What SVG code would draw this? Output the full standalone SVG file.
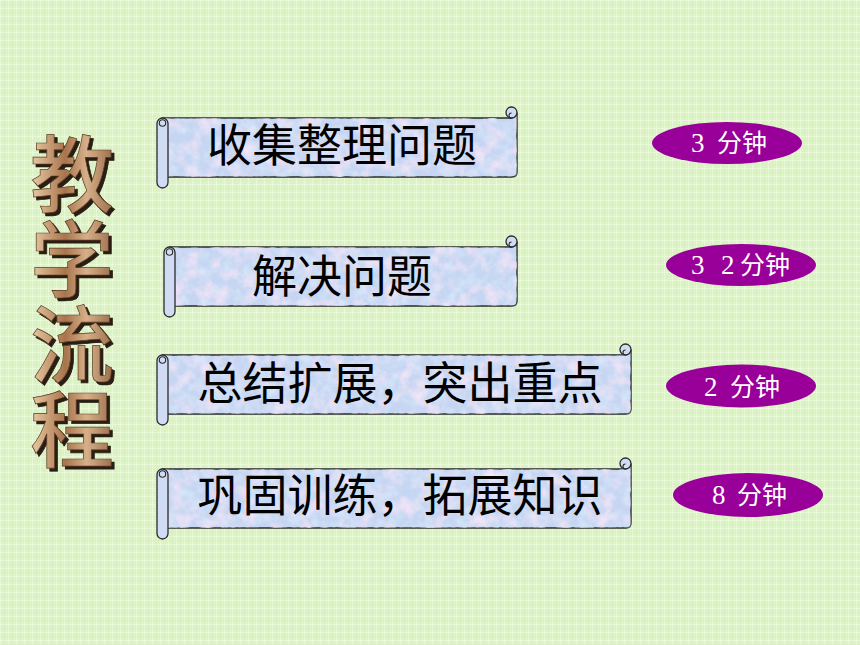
<svg xmlns="http://www.w3.org/2000/svg" width="860" height="645" viewBox="0 0 860 645">
<defs>
<style>
.scroll{fill:#c6d6f2;stroke:#2a2a2a;stroke-width:1.4}
.tex{filter:url(#marble)}
.curl{fill:#d0dcf4;stroke:#2a2a2a;stroke-width:1.3}
.lbl{font-family:"Noto Sans CJK SC","Noto Sans CJK JP",sans-serif;font-size:45px;fill:#000;text-anchor:middle}
.pill{fill:#990099}
.tm{font-family:"Liberation Serif","Noto Sans CJK SC",serif;font-size:27px;fill:#fff}
.tm .c{font-family:"Noto Sans CJK SC",sans-serif;font-size:25px}
.ttl{font-family:"Noto Sans CJK SC",sans-serif;font-size:84px;font-weight:500;letter-spacing:1px;writing-mode:vertical-rl;fill:url(#bronze);stroke:#5a3a20;stroke-width:0.7;filter:url(#shadow)}
</style>
<pattern id="grid" width="8" height="8" patternUnits="userSpaceOnUse">
<rect width="8" height="8" fill="#ddf3c7"/>
<path d="M0 0.5H8M0.5 0V8" stroke="#e9f9da" stroke-width="1"/>
<path d="M0 4.5H8M4.5 0V8" stroke="#d6eec0" stroke-width="0.6"/>
</pattern>
<filter id="marble" x="0" y="0" width="100%" height="100%">
<feTurbulence type="fractalNoise" baseFrequency="0.07" numOctaves="4" seed="7" result="n"/>
<feColorMatrix in="n" type="matrix" values="0 0 0 0 0.92  0 0 0 0 0.78  0 0 0 0 0.93  2.2 0 0 0 -0.95" result="c"/>
<feTurbulence type="fractalNoise" baseFrequency="0.09" numOctaves="3" seed="21" result="n2"/>
<feColorMatrix in="n2" type="matrix" values="0 0 0 0 0.66  0 0 0 0 0.8  0 0 0 0 0.95  2.2 0 0 0 -0.95" result="c2"/>
<feMerge result="m"><feMergeNode in="c2"/><feMergeNode in="c"/></feMerge>
<feComposite in="m" in2="SourceGraphic" operator="in"/>
</filter>
<filter id="shadow" x="-20%" y="-5%" width="140%" height="110%">
<feOffset in="SourceAlpha" dx="3" dy="3" result="o"/>
<feFlood flood-color="#2a1e12"/>
<feComposite in2="o" operator="in" result="s"/>
<feMerge><feMergeNode in="s"/><feMergeNode in="SourceGraphic"/></feMerge>
</filter>
<linearGradient id="bronze" x1="0" y1="0" x2="0" y2="0.25" spreadMethod="reflect">
<stop offset="0" stop-color="#e0c09a"/>
<stop offset="0.35" stop-color="#a8744c"/>
<stop offset="0.6" stop-color="#d6b08a"/>
<stop offset="1" stop-color="#8a5c3a"/>
</linearGradient>
</defs>

<rect width="860" height="645" fill="url(#grid)"/>

<g id="title">
<text class="ttl" x="72" y="132">教学流程</text>
</g>

<g id="node1">
<path class="scroll" d="M162.5 118H511.5A5.5 5.5 0 0 0 517 112.5V172Q517 177 512 177H162.5Z"/>
<path class="tex" fill="#fff" d="M162.5 118H511.5A5.5 5.5 0 0 0 517 112.5V172Q517 177 512 177H162.5Z"/>
<circle class="curl" cx="511.5" cy="112.5" r="5.5"/>
<path d="M511.5 118A2.5 2.5 0 0 1 511.5 113" fill="none" stroke="#2a2a2a" stroke-width="1.1"/>
<rect class="curl" x="157" y="118" width="11" height="70" rx="5.5"/>
<circle cx="162.5" cy="123" r="3.2" fill="none" stroke="#2a2a2a" stroke-width="1.1"/>
<text class="lbl" x="342" y="162">收集整理问题</text>
</g>

<g id="node2">
<path class="scroll" d="M169.5 247H511.5A5.5 5.5 0 0 0 517 241.5V301Q517 306 512 306H169.5Z"/>
<path class="tex" fill="#fff" d="M169.5 247H511.5A5.5 5.5 0 0 0 517 241.5V301Q517 306 512 306H169.5Z"/>
<circle class="curl" cx="511.5" cy="241.5" r="5.5"/>
<path d="M511.5 247A2.5 2.5 0 0 1 511.5 242" fill="none" stroke="#2a2a2a" stroke-width="1.1"/>
<rect class="curl" x="164" y="247" width="11" height="70" rx="5.5"/>
<circle cx="169.5" cy="252" r="3.2" fill="none" stroke="#2a2a2a" stroke-width="1.1"/>
<text class="lbl" x="342" y="293">解决问题</text>
</g>

<g id="node3">
<path class="scroll" d="M162.5 355H625.5A5.5 5.5 0 0 0 631 349.5V409Q631 414 626 414H162.5Z"/>
<path class="tex" fill="#fff" d="M162.5 355H625.5A5.5 5.5 0 0 0 631 349.5V409Q631 414 626 414H162.5Z"/>
<circle class="curl" cx="625.5" cy="349.5" r="5.5"/>
<path d="M625.5 355A2.5 2.5 0 0 1 625.5 350" fill="none" stroke="#2a2a2a" stroke-width="1.1"/>
<rect class="curl" x="157" y="355" width="11" height="70" rx="5.5"/>
<circle cx="162.5" cy="360" r="3.2" fill="none" stroke="#2a2a2a" stroke-width="1.1"/>
<text class="lbl" x="400" y="400">总结扩展，突出重点</text>
</g>

<g id="node4">
<path class="scroll" d="M162.5 469H625.5A5.5 5.5 0 0 0 631 463.5V523Q631 528 626 528H162.5Z"/>
<path class="tex" fill="#fff" d="M162.5 469H625.5A5.5 5.5 0 0 0 631 463.5V523Q631 528 626 528H162.5Z"/>
<circle class="curl" cx="625.5" cy="463.5" r="5.5"/>
<path d="M625.5 469A2.5 2.5 0 0 1 625.5 464" fill="none" stroke="#2a2a2a" stroke-width="1.1"/>
<rect class="curl" x="157" y="469" width="11" height="70" rx="5.5"/>
<circle cx="162.5" cy="474" r="3.2" fill="none" stroke="#2a2a2a" stroke-width="1.1"/>
<text class="lbl" x="400" y="512">巩固训练，拓展知识</text>
</g>

<g id="time1">
<ellipse class="pill" cx="727" cy="143" rx="75" ry="21"/>
<text class="tm" x="691" y="152">3 <tspan class="c" x="717">分钟</tspan></text>
</g>
<g id="time2">
<ellipse class="pill" cx="741" cy="265" rx="75" ry="21"/>
<text class="tm" x="691" y="274">3 <tspan x="721">2</tspan><tspan class="c" x="740">分钟</tspan></text>
</g>
<g id="time3">
<ellipse class="pill" cx="741" cy="386" rx="75" ry="21.5"/>
<text class="tm" x="704" y="396">2 <tspan class="c" x="730">分钟</tspan></text>
</g>
<g id="time4">
<ellipse class="pill" cx="748" cy="495" rx="75" ry="22"/>
<text class="tm" x="712" y="504">8 <tspan class="c" x="737">分钟</tspan></text>
</g>
</svg>
